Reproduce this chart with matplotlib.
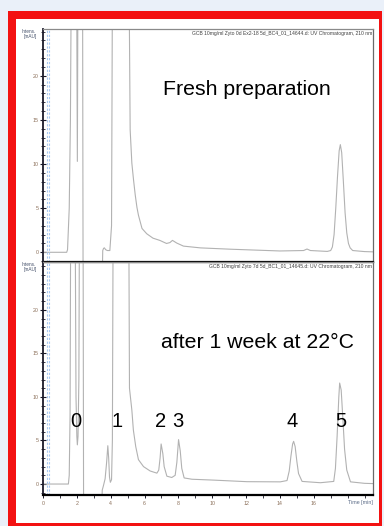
import matplotlib
matplotlib.use("Agg")
import matplotlib.pyplot as plt
from matplotlib.patches import Rectangle
from matplotlib.ticker import MultipleLocator

plt.rcParams['font.family'] = ['Liberation Sans', 'DejaVu Sans']

# ---- data (time in min, intensity in mAU) ----
fresh_time = [0.0, 1.40, 1.45, 1.55, 1.62, 1.70, 1.97, 2.03, 2.08, 2.33, 2.37,
              3.48, 3.53, 3.58, 3.63, 3.70, 3.80, 3.95, 4.05, 4.12,
              5.05, 5.15, 5.25, 5.35, 5.45, 5.55, 5.64, 5.85, 6.13, 6.50, 6.90,
              7.30, 7.50, 7.65, 7.90, 8.30, 9.30, 11.07, 14.0, 15.4, 15.6, 15.8,
              16.8, 17.0, 17.1, 17.2, 17.3, 17.4, 17.5, 17.57, 17.65, 17.75,
              17.85, 17.95, 18.05, 18.15, 18.30, 19.0, 19.5]
fresh_int = [0.0, 0.0, 0.3, 5.0, 15.0, 40.0, 40.0, 10.3, 40.0, 40.0, -5.0,
             -5.0, 0.2, 0.45, 0.5, 0.3, 0.2, 0.2, 3.0, 40.0,
             40.0, 13.9, 10.1, 8.2, 6.5, 5.1, 4.2, 2.7, 2.1, 1.6, 1.35,
             1.0, 1.1, 1.35, 1.05, 0.7, 0.5, 0.35, 0.15, 0.2, 0.37, 0.2,
             0.1, 0.2, 0.6, 2.0, 5.0, 8.5, 11.5, 12.2, 11.3, 8.0,
             4.5, 2.2, 1.0, 0.5, 0.2, 0.08, 0.05]

week_time = [0.0, 1.50, 1.55, 1.60, 1.65, 1.88, 1.95, 2.00, 2.03, 2.07, 2.12,
             2.17, 2.36, 2.40, 3.45, 3.50, 3.57, 3.67, 3.76, 3.83, 3.88, 3.93,
             3.98, 4.05, 4.10, 4.16, 5.05, 5.11, 5.25, 5.34, 5.48, 5.64, 5.94,
             6.33, 6.73, 6.84, 6.92, 6.98, 7.08, 7.16, 7.32, 7.61, 7.81, 7.91,
             8.01, 8.11, 8.20, 8.34, 8.80, 10.08, 12.05, 14.02, 14.42, 14.55,
             14.65, 14.75, 14.81, 14.90, 15.00, 15.10, 15.31, 16.39, 17.18,
             17.28, 17.38, 17.48, 17.53, 17.62, 17.72, 17.82, 17.95, 18.17,
             19.0, 19.5]
week_int = [0.0, 0.0, 1.0, 8.0, 40.0, 40.0, 10.0, 5.5, 4.5, 5.5, 12.0,
            40.0, 40.0, -5.0, -5.0, -0.7, -0.2, 0.6, 2.5, 4.4, 3.0, 0.8,
            0.2, 0.5, 5.0, 40.0, 40.0, 11.0, 8.5, 6.2, 4.3, 2.8, 2.0,
            1.5, 1.25, 1.6, 3.0, 4.6, 3.5, 2.0, 0.9, 0.75, 1.0, 2.5,
            5.1, 3.8, 1.8, 0.7, 0.55, 0.45, 0.27, 0.25, 0.4, 1.5,
            3.2, 4.6, 4.9, 4.3, 2.6, 1.2, 0.3, 0.15, 0.3,
            1.8, 5.5, 10.0, 11.6, 10.8, 7.5, 4.0, 1.6, 0.25,
            0.08, 0.05]

peak_labels = ['0', '1', '2', '3', '4', '5']
peak_label_x = [1.95, 4.38, 6.92, 7.99, 14.73, 17.57]
peak_label_y = 7.2

xtick_values = [0, 2, 4, 6, 8, 10, 12, 14, 16]
ytick_values = [0, 5, 10, 15, 20]

top_header = "GCB 10mg/ml Zyto 0d Ex2-18 5d_BC4_01_14644.d: UV Chromatogram, 210 nm"
bottom_header = "GCB 10mg/ml Zyto 7d 5d_BC1_01_14645.d: UV Chromatogram, 210 nm"

# ---- figure ----
W, H = 384, 526
fig = plt.figure(figsize=(W / 100, H / 100), dpi=100)
fig.patch.set_facecolor('#eaf0f9')
fig.patches.append(Rectangle((8 / W, 0), 374 / W, (H - 11) / H, transform=fig.transFigure,
                             facecolor='#f31212', edgecolor='none', zorder=-2))
fig.patches.append(Rectangle((16 / W, 3 / H), 363 / W, (523 - 19) / H, transform=fig.transFigure,
                             facecolor='white', edgecolor='none', zorder=-1))

left = 43 / W
width = (373 - 43) / W
ax1 = fig.add_axes([left, 1 - 262 / H, width, (262 - 29) / H])
ax2 = fig.add_axes([left, 1 - 495 / H, width, (495 - 262) / H])

trace_col = '#b2b2b2'
tick_col = '#8a6e58'
for ax, t, y, ylim, header in [(ax1, fresh_time, fresh_int, (-1.1, 25.3), top_header),
                               (ax2, week_time, week_int, (-1.26, 25.5), bottom_header)]:
    ax.set_facecolor('none')
    ax.plot(t, y, color=trace_col, lw=0.8, solid_joinstyle='round')
    ax.set_xlim(0, 19.5)
    ax.set_ylim(*ylim)
    for xv in (0.22, 0.36):
        ax.axvline(xv, color='#a9c9f2', lw=0.8, ls=(0, (2, 1.5)))
    ax.spines['left'].set_color('#1a1a2a')
    ax.spines['left'].set_linewidth(1.3)
    ax.spines['bottom'].set_color('black')
    ax.spines['bottom'].set_linewidth(1.6)
    ax.spines['top'].set_color('#8a8a8a')
    ax.spines['top'].set_linewidth(0.9)
    ax.spines['right'].set_color('#6a6a6a')
    ax.spines['right'].set_linewidth(0.9)
    ax.set_yticks(ytick_values)
    ax.set_yticklabels([str(v) for v in ytick_values])
    ax.yaxis.set_minor_locator(MultipleLocator(1))
    ax.tick_params(axis='y', which='major', direction='inout', length=4, width=0.8,
                   labelsize=3.8, labelcolor=tick_col, color='#1a1a2a', pad=1)
    ax.tick_params(axis='y', which='minor', direction='inout', length=2.5, width=0.6,
                   color='#1a1a2a')
    ax.text(-0.02, 1.0, "Intens.\n[mAU]", transform=ax.transAxes, ha='right', va='top',
            fontsize=3.4, color='#44506a', linespacing=1.0)
    ax.text(0.998, 0.993, header, transform=ax.transAxes, ha='right', va='top',
            fontsize=3.6, color='#404040')

ax1.set_xticks([])
ax1.tick_params(axis='x', which='both', length=0)

ax2.set_xticks(xtick_values)
ax2.set_xticklabels([str(v) for v in xtick_values])
ax2.xaxis.set_minor_locator(MultipleLocator(1))
ax2.tick_params(axis='x', which='major', direction='out', length=2.5, width=0.7,
                labelsize=3.8, labelcolor=tick_col, color='#1a1a2a', pad=1.5)
ax2.tick_params(axis='x', which='minor', direction='out', length=1.8, width=0.6,
                color='#1a1a2a')
ax2.text(1.0, -0.02, "Time [min]", transform=ax2.transAxes, ha='right', va='top',
         fontsize=3.8, color='#5a6a86')

ax1.text(7.1, 18.4, "Fresh preparation", fontsize=15.3, color='black', ha='left', va='center')
ax2.text(7.0, 16.2, "after 1 week at 22\u00b0C", fontsize=15.3, color='black', ha='left', va='center')
for lab, xv in zip(peak_labels, peak_label_x):
    ax2.text(xv, peak_label_y, lab, fontsize=14.5, color='black', ha='center', va='center')

fig.savefig('out.png', dpi=100)
